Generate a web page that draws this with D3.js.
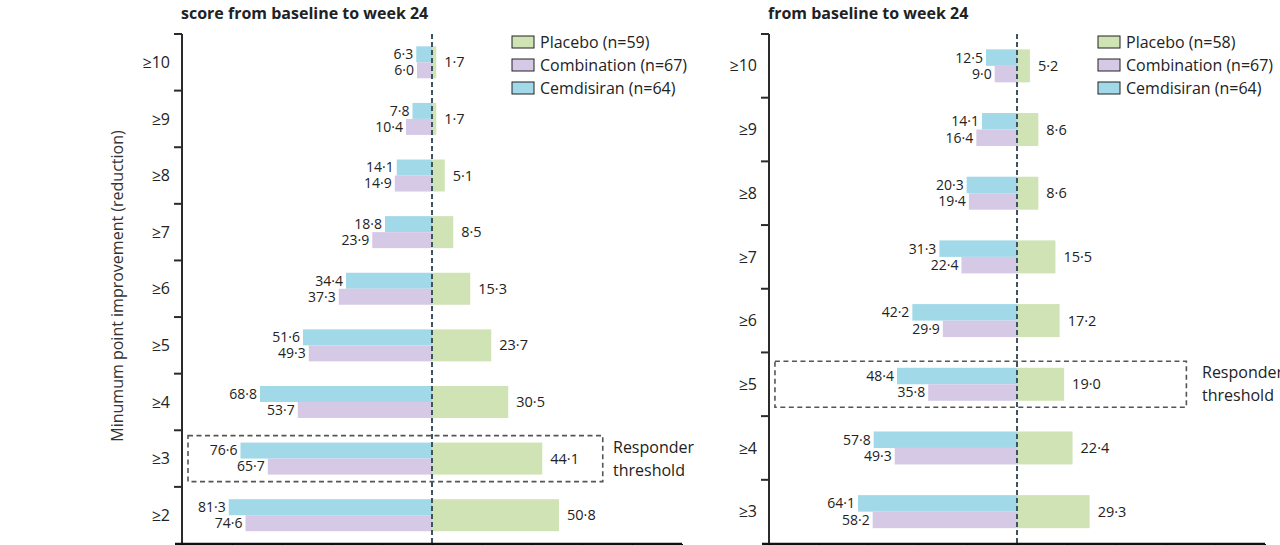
<!DOCTYPE html>
<html>
<head>
<meta charset="utf-8">
<script src="https://cdn.jsdelivr.net/npm/d3@7"></script>
<style>
  body { margin: 0; background: #fff; }
  svg { display: block; font-family: "Open Sans", sans-serif; }
</style>
</head>
<body>
<svg id="chart" width="1280" height="545"></svg>
<script>
// categories (top to bottom)
const leftCats = ["≥10", "≥9", "≥8", "≥7", "≥6", "≥5", "≥4", "≥3", "≥2"];
const rightCats = ["≥10", "≥9", "≥8", "≥7", "≥6", "≥5", "≥4", "≥3"];

// % responders, left panel
const leftPlacebo     = [1.7, 1.7, 5.1, 8.5, 15.3, 23.7, 30.5, 44.1, 50.8];
const leftCombination = [6.0, 10.4, 14.9, 23.9, 37.3, 49.3, 53.7, 65.7, 74.6];
const leftCemdisiran  = [6.3, 7.8, 14.1, 18.8, 34.4, 51.6, 68.8, 76.6, 81.3];

// % responders, right panel
const rightPlacebo     = [5.2, 8.6, 8.6, 15.5, 17.2, 19.0, 22.4, 29.3];
const rightCombination = [9.0, 16.4, 19.4, 22.4, 29.9, 35.8, 49.3, 58.2];
const rightCemdisiran  = [12.5, 14.1, 20.3, 31.3, 42.2, 48.4, 57.8, 64.1];

const leftLegend = ["Placebo (n=59)", "Combination (n=67)", "Cemdisiran (n=64)"];
const rightLegend = ["Placebo (n=58)", "Combination (n=67)", "Cemdisiran (n=64)"];

const leftTitle = "score from baseline to week 24";
const rightTitle = "from baseline to week 24";
const yLabel = "Minumum point improvement (reduction)";

// x ticks sit below the cropped edge, only the axis line shows
const xTicks = [-100, -80, -60, -40, -20, 0, 20, 40, 60, 80, 100];
const responderBox = [-97.6, 68.3];   // x extent of the threshold box

const colPlacebo = "#cfe3b4";
const colCombo = "#d5c9e6";
const colCem = "#a2d9e8";
const textCol = "#222";

const fmt = v => d3.format(".1f")(v).replace(".", "·");

const svg = d3.select("#chart");

function drawPanel(p) {
  const x = d3.scaleLinear().domain([-100, 100]).range(p.xRange);
  const y = d3.scaleBand().domain(p.cats).range([34, 543.5]);
  const g = svg.append("g");
  const bh = p.barH;

  const rows = p.cats.map((c, i) => ({
    cat: c, pla: p.pla[i], com: p.com[i], cem: p.cem[i]
  }));

  // threshold box
  const cy = y(p.threshold) + y.bandwidth() / 2;
  g.append("rect")
    .attr("x", x(responderBox[0]))
    .attr("y", cy - 23)
    .attr("width", x(responderBox[1]) - x(responderBox[0]))
    .attr("height", 46)
    .attr("fill", "none")
    .attr("stroke", "#555")
    .attr("stroke-width", 1.6)
    .attr("stroke-dasharray", "5,3.5");
  g.append("text").attr("x", p.respX).attr("y", cy - 6)
    .attr("font-size", 16).attr("fill", textCol).text("Responder");
  g.append("text").attr("x", p.respX).attr("y", cy + 17)
    .attr("font-size", 16).attr("fill", textCol).text("threshold");

  const row = g.selectAll("g.row").data(rows).join("g")
    .attr("class", "row")
    .attr("transform", d => `translate(0,${y(d.cat) + y.bandwidth() / 2})`);

  // placebo to the right
  row.append("rect")
    .attr("x", x(0))
    .attr("y", -bh)
    .attr("width", d => x(d.pla) - x(0))
    .attr("height", bh * 2)
    .attr("fill", colPlacebo);
  // cemdisiran upper left
  row.append("rect")
    .attr("x", d => x(-d.cem))
    .attr("y", -bh)
    .attr("width", d => x(0) - x(-d.cem))
    .attr("height", bh)
    .attr("fill", colCem);
  // combination lower left
  row.append("rect")
    .attr("x", d => x(-d.com))
    .attr("y", 0)
    .attr("width", d => x(0) - x(-d.com))
    .attr("height", bh)
    .attr("fill", colCombo);

  row.append("text")
    .attr("x", d => x(-d.cem) - 3)
    .attr("y", -bh / 2)
    .attr("dy", "0.35em")
    .attr("text-anchor", "end")
    .attr("font-size", 14).attr("fill", textCol)
    .text(d => fmt(d.cem));
  row.append("text")
    .attr("x", d => x(-d.com) - 3)
    .attr("y", bh / 2)
    .attr("dy", "0.35em")
    .attr("text-anchor", "end")
    .attr("font-size", 14).attr("fill", textCol)
    .text(d => fmt(d.com));
  row.append("text")
    .attr("x", d => x(d.pla) + 8)
    .attr("y", 0)
    .attr("dy", "0.35em")
    .attr("font-size", 14.5).attr("fill", textCol)
    .text(d => fmt(d.pla));

  // centre dashed line
  g.append("line")
    .attr("x1", x(0)).attr("x2", x(0))
    .attr("y1", 34).attr("y2", 545)
    .attr("stroke", "#3e5460")
    .attr("stroke-width", 2)
    .attr("stroke-dasharray", "5,3");

  // y axis: ticks on band boundaries
  const yAxis = g.append("g").attr("transform", `translate(${p.xRange[0]},0)`);
  yAxis.append("line")
    .attr("x1", 0).attr("x2", 0).attr("y1", 34).attr("y2", 544)
    .attr("stroke", "#2b2b2b").attr("stroke-width", 2);
  yAxis.selectAll("line.tk").data(p.cats).join("line")
    .attr("class", "tk")
    .attr("x1", -8).attr("x2", 0)
    .attr("y1", d => y(d)).attr("y2", d => y(d))
    .attr("stroke", "#2b2b2b").attr("stroke-width", 2);
  yAxis.selectAll("text").data(p.cats).join("text")
    .attr("x", -12)
    .attr("y", d => y(d) + y.bandwidth() / 2)
    .attr("dy", "0.35em")
    .attr("text-anchor", "end")
    .attr("font-size", 16).attr("fill", textCol)
    .text(d => d);

  // x axis
  const xAxis = g.append("g")
    .attr("transform", "translate(0,544)")
    .call(d3.axisBottom(x).tickValues(xTicks).tickSize(8).tickFormat(""));
  xAxis.select(".domain")
    .attr("d", `M${p.xRange[0] - 7},0H${p.xRange[1]}`)
    .attr("stroke", "#111").attr("stroke-width", 2.5);

  // legend
  const lg = g.append("g").attr("transform", `translate(${p.legendX},36)`);
  const items = [
    { label: p.legend[0], col: colPlacebo },
    { label: p.legend[1], col: colCombo },
    { label: p.legend[2], col: colCem }
  ];
  const li = lg.selectAll("g").data(items).join("g")
    .attr("transform", (d, i) => `translate(0,${i * 23})`);
  li.append("rect")
    .attr("width", 22).attr("height", 12)
    .attr("fill", d => d.col)
    .attr("stroke", "#222").attr("stroke-width", 1);
  li.append("text")
    .attr("x", 28).attr("y", 6).attr("dy", "0.35em")
    .attr("font-size", 16).attr("fill", textCol)
    .text(d => d.label);

  // title
  g.append("text")
    .attr("x", p.xRange[0] - 1).attr("y", 19)
    .attr("font-size", 16).attr("font-weight", "bold").attr("fill", textCol)
    .text(p.title);
}

drawPanel({
  cats: leftCats, pla: leftPlacebo, com: leftCombination, cem: leftCemdisiran,
  xRange: [182, 682], barH: 16, threshold: "≥3", respX: 613,
  legendX: 512, legend: leftLegend, title: leftTitle
});
drawPanel({
  cats: rightCats, pla: rightPlacebo, com: rightCombination, cem: rightCemdisiran,
  xRange: [769, 1265], barH: 16.5, threshold: "≥5", respX: 1202,
  legendX: 1098, legend: rightLegend, title: rightTitle
});

// y axis title, left panel only
svg.append("text")
  .attr("transform", "translate(123,286) rotate(-90)")
  .attr("text-anchor", "middle")
  .attr("font-size", 16).attr("fill", "#333")
  .text(yLabel);
</script>
</body>
</html>
